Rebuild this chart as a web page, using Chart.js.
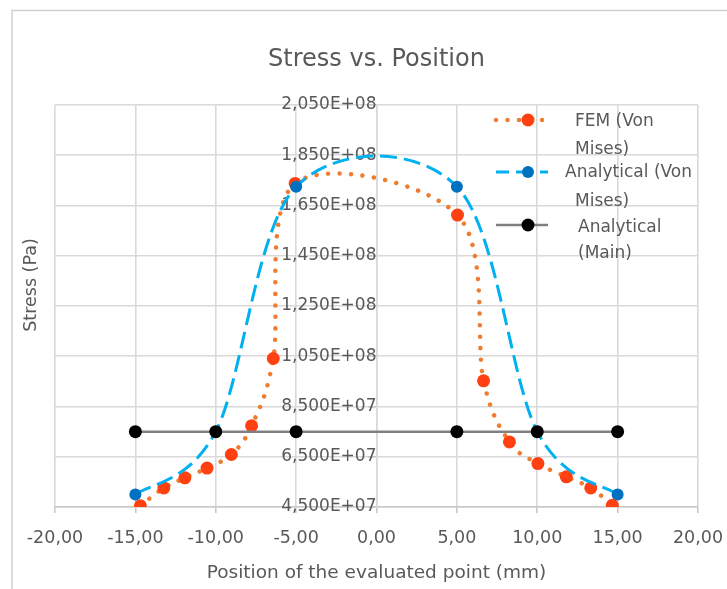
<!DOCTYPE html>
<html>
<head>
<meta charset="utf-8">
<script src="https://cdn.jsdelivr.net/npm/chart.js@4.4.1/dist/chart.umd.min.js"></script>
<style>
html,body{margin:0;padding:0;background:#fff;}
canvas{display:block;}
</style>
</head>
<body>
<canvas id="c" width="727" height="589"></canvas>
<script>
// ---------- data ----------
const chartTitle = 'Stress vs. Position';
const xAxisTitle = 'Position of the evaluated point (mm)';
const yAxisTitle = 'Stress (Pa)';
const seriesNames = ['FEM (Von Mises)', 'Analytical (Von Mises)', 'Analytical (Main)'];
const legendLines = [['FEM (Von', 'Mises)'], ['Analytical (Von', 'Mises)'], ['Analytical', '(Main)']];

const femX = [-14.69, -13.23, -11.92, -10.54, -9.03, -7.77, -6.42, -5.06, 5.04, 6.66, 8.27, 10.04, 11.81, 13.33, 14.67];
const femY = [4.55e7, 5.26e7, 5.66e7, 6.05e7, 6.59e7, 7.73e7, 1.041e8, 1.738e8, 1.612e8, 9.52e7, 7.09e7, 6.23e7, 5.70e7, 5.26e7, 4.57e7];

const anaX = [-15, -10, -5, 5, 10, 15];
const anaVonMises = [5.0e7, 7.5e7, 1.725e8, 1.725e8, 7.5e7, 5.0e7];
const anaMain = [7.5e7, 7.5e7, 7.5e7, 7.5e7, 7.5e7, 7.5e7];

const xTickValues = [-20, -15, -10, -5, 0, 5, 10, 15, 20];
const xTickLabels = ['-20,00', '-15,00', '-10,00', '-5,00', '0,00', '5,00', '10,00', '15,00', '20,00'];
const yTickValues = [4.5e7, 6.5e7, 8.5e7, 1.05e8, 1.25e8, 1.45e8, 1.65e8, 1.85e8, 2.05e8];
const yTickLabels = ['4,500E+07', '6,500E+07', '8,500E+07', '1,050E+08', '1,250E+08', '1,450E+08', '1,650E+08', '1,850E+08', '2,050E+08'];

// ---------- styles ----------
const FONT = '"DejaVu Sans", sans-serif';
const TEXT = '#595959';
const GRID = '#D9D9D9';
const femLine = '#F07C30', femMarker = '#FF4010';
const anaLine = '#00B0F0', anaMarker = '#0070C0';
const mainLine = '#808080', mainMarker = '#000000';

const toXY = (xs, ys) => xs.map((x, i) => ({x: x, y: ys[i]}));

// Excel-like smoothing (Catmull-Rom, 1/6 tangents) applied to Chart.js control points
const excelSmooth = {
  id: 'excelSmooth',
  beforeDatasetDraw(chart, args) {
    const ds = chart.data.datasets[args.index];
    if (!ds.excelSmooth) return;
    const meta = args.meta;
    const pts = meta.data;
    const n = pts.length;
    for (let i = 0; i < n; i++) {
      const p = pts[i];
      const prev = pts[Math.max(0, i - 1)];
      const next = pts[Math.min(n - 1, i + 1)];
      const tx = (next.x - prev.x) / 6, ty = (next.y - prev.y) / 6;
      p.cp1x = p.x - tx; p.cp1y = p.y - ty;
      p.cp2x = p.x + tx; p.cp2y = p.y + ty;
    }
    meta.dataset._pointsUpdated = true;
    meta.dataset._path = undefined;
  }
};

// frame, y title and legend
const decor = {
  id: 'decor',
  beforeDraw(chart) {
    const ctx = chart.ctx;
    ctx.save();
    ctx.fillStyle = '#fff';
    ctx.fillRect(0, 0, chart.width, chart.height);
    ctx.strokeStyle = '#D0D0D0';
    ctx.lineWidth = 1.5;
    ctx.beginPath();
    ctx.moveTo(12, chart.height);
    ctx.lineTo(12, 10.5);
    ctx.lineTo(chart.width, 10.5);
    ctx.stroke();
    ctx.restore();
  },
  afterDraw(chart) {
    const ctx = chart.ctx;
    ctx.save();
    // y axis title
    ctx.fillStyle = TEXT;
    ctx.font = '17.5px ' + FONT;
    ctx.textAlign = 'center';
    ctx.textBaseline = 'middle';
    ctx.translate(31, 285);
    ctx.rotate(-Math.PI / 2);
    ctx.fillText(yAxisTitle, 0, 0);
    ctx.restore();

    // legend
    const rows = [
      {y: 120, tx: [575, 575], ty: [122, 150]},
      {y: 172, tx: [565, 575], ty: [173, 202]},
      {y: 225, tx: [578, 578], ty: [228, 254]}
    ];
    const dsets = chart.data.datasets;
    const legendOrder = [2, 1, 0]; // dataset index for each legend row
    rows.forEach((r, k) => {
      const ds = dsets[legendOrder[k]];
      ctx.save();
      ctx.strokeStyle = ds.borderColor;
      ctx.lineWidth = ds.borderWidth;
      ctx.lineCap = ds.borderCapStyle || 'butt';
      ctx.setLineDash(ds.borderDash || []);
      ctx.lineDashOffset = ds.legendDashOffset || 0;
      ctx.beginPath();
      ctx.moveTo(496, r.y);
      ctx.lineTo(548, r.y);
      ctx.stroke();
      ctx.setLineDash([]);
      ctx.fillStyle = ds.pointBackgroundColor;
      ctx.beginPath();
      ctx.arc(528, r.y, ds.pointRadius, 0, Math.PI * 2);
      ctx.fill();
      ctx.fillStyle = TEXT;
      ctx.font = '17px ' + FONT;
      ctx.textAlign = 'left';
      ctx.textBaseline = 'middle';
      legendLines[k].forEach((line, j) => {
        ctx.fillText(line, r.tx[j], r.ty[j]);
      });
      ctx.restore();
    });
  }
};

new Chart(document.getElementById('c'), {
  type: 'line',
  data: {
    datasets: [
      {
        label: seriesNames[2],
        data: toXY(anaX, anaMain),
        order: 0,
        borderColor: mainLine,
        borderWidth: 2.5,
        tension: 0,
        pointRadius: 6.5,
        pointBackgroundColor: mainMarker,
        pointBorderColor: mainMarker,
        pointBorderWidth: 0
      },
      {
        label: seriesNames[1],
        data: toXY(anaX, anaVonMises),
        order: 1,
        excelSmooth: true,
        borderColor: anaLine,
        borderWidth: 3,
        borderDash: [17, 7],
        legendDashOffset: 4,
        tension: 0.4,
        pointRadius: 6,
        pointBackgroundColor: anaMarker,
        pointBorderColor: anaMarker,
        pointBorderWidth: 0
      },
      {
        label: seriesNames[0],
        data: toXY(femX, femY),
        order: 2,
        excelSmooth: true,
        borderColor: femLine,
        borderWidth: 4.5,
        borderDash: [0.01, 11.5],
        borderCapStyle: 'round',
        legendDashOffset: 0,
        tension: 0.4,
        pointRadius: 6.5,
        pointBackgroundColor: femMarker,
        pointBorderColor: femMarker,
        pointBorderWidth: 0
      }
    ]
  },
  options: {
    responsive: false,
    devicePixelRatio: 1,
    animation: false,
    events: [],
    layout: {padding: {left: 55, right: 29, top: 0, bottom: 0}},
    plugins: {
      legend: {display: false},
      tooltip: {enabled: false},
      title: {
        display: true,
        text: chartTitle,
        color: TEXT,
        font: {family: FONT, size: 24, weight: 'normal'},
        padding: {top: 45.6, bottom: 30.6}
      }
    },
    scales: {
      x: {
        type: 'linear',
        min: -20,
        max: 20,
        afterBuildTicks(scale) { scale.ticks = xTickValues.map(v => ({value: v})); },
        afterFit(scale) { scale.height = 82; scale.paddingLeft = 0; scale.paddingRight = 0; },
        ticks: {
          callback: (v) => xTickLabels[xTickValues.indexOf(v)],
          color: TEXT,
          font: {family: FONT, size: 17.5},
          padding: 15,
          maxRotation: 0,
          autoSkip: false
        },
        grid: {color: GRID, lineWidth: 1.6, tickLength: 6, tickColor: '#C8C8C8'},
        border: {color: '#C8C8C8', width: 1.6},
        title: {
          display: true,
          text: xAxisTitle,
          color: TEXT,
          font: {family: FONT, size: 18.5},
          padding: {top: 0, bottom: 5}
        }
      },
      y: {
        type: 'linear',
        position: {x: 0},
        min: 4.5e7,
        max: 2.05e8,
        afterBuildTicks(scale) { scale.ticks = yTickValues.map(v => ({value: v})); },
        ticks: {
          callback: (v) => yTickLabels[yTickValues.indexOf(v)],
          color: TEXT,
          font: {family: FONT, size: 17},
          padding: 12
        },
        grid: {color: GRID, lineWidth: 1.6, tickLength: 8, tickColor: '#C8C8C8'},
        border: {color: GRID, width: 1.6}
      }
    }
  },
  plugins: [excelSmooth, decor]
});
</script>
</body>
</html>
